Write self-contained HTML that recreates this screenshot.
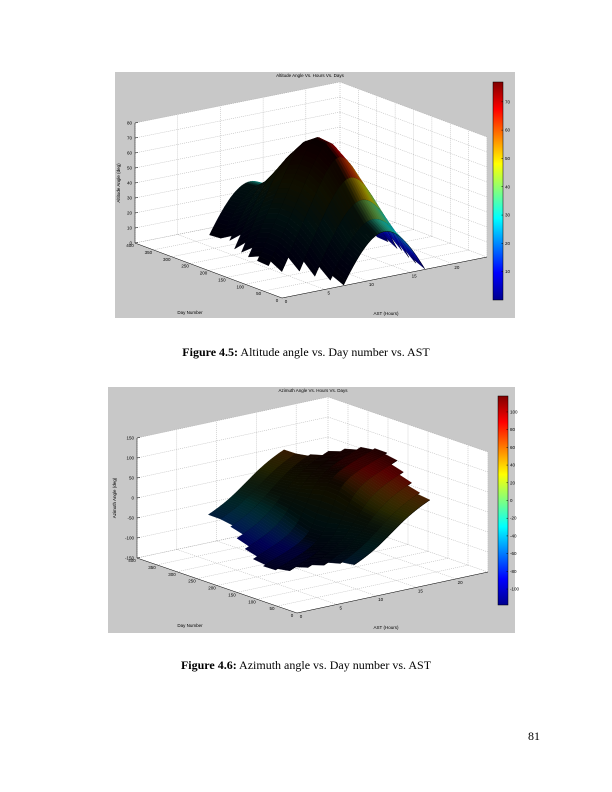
<!DOCTYPE html>
<html><head><meta charset="utf-8"><style>
body{margin:0;background:#fff;width:612px;height:792px;position:relative;overflow:hidden;font-family:"Liberation Serif",serif}
svg{position:absolute;left:0;top:0}
.cap{position:absolute;width:612px;text-align:center;font-size:12px;color:#000}
</style></head><body>
<svg id="s" width="612" height="792" xmlns="http://www.w3.org/2000/svg">
<defs><linearGradient id="jet" x1="0" y1="1" x2="0" y2="0">
<stop offset="0" stop-color="#00008F"/><stop offset="0.125" stop-color="#0000FF"/><stop offset="0.375" stop-color="#00FFFF"/><stop offset="0.625" stop-color="#FFFF00"/><stop offset="0.875" stop-color="#FF0000"/><stop offset="1" stop-color="#800000"/></linearGradient></defs>
<rect x="115" y="72" width="400" height="246" fill="#c8c8c8"/>
<rect x="108" y="387" width="407" height="246" fill="#c8c8c8"/>
<g id="g1"></g><g id="g2"></g>
</svg>
<div class="cap" style="top:345px"><b>Figure 4.5:</b> Altitude angle vs. Day number vs. AST</div>
<div class="cap" style="top:658px"><b>Figure 4.6:</b> Azimuth angle vs. Day number vs. AST</div>
<div style="position:absolute;left:528px;top:729px;font-size:12px">81</div>
<script>
var NS="http://www.w3.org/2000/svg";
function el(p,t,a,txt){var e=document.createElementNS(NS,t);for(var k in a)e.setAttribute(k,a[k]);if(txt!==undefined)e.textContent=txt;p.appendChild(e);return e;}
function jet(v){v=Math.max(0,Math.min(1,v));var r=Math.max(0,Math.min(1,1.5-Math.abs(4*v-3))),g=Math.max(0,Math.min(1,1.5-Math.abs(4*v-2))),b=Math.max(0,Math.min(1,1.5-Math.abs(4*v-1)));return [r,g,b];}
var LAT=36.5*Math.PI/180;
function sun(h,n){var d=23.45*Math.sin(2*Math.PI*(284+n)/365)*Math.PI/180;var H=15*(h-12)*Math.PI/180;
 var sa=Math.sin(LAT)*Math.sin(d)+Math.cos(LAT)*Math.cos(d)*Math.cos(H);var alt=Math.asin(sa)*180/Math.PI;
 var az=Math.atan2(Math.sin(H),Math.cos(H)*Math.sin(LAT)-Math.tan(d)*Math.cos(LAT))*180/Math.PI;return [alt,az];}
function chart(g,c){
 var F=c.F,R=c.R,L=c.L,Hh=c.H;
 function P(h,d,z){var t=(z-c.zmin)/(c.zmax-c.zmin);return [F[0]+h/24*(R[0]-F[0])+d/400*(L[0]-F[0]),F[1]+h/24*(R[1]-F[1])+d/400*(L[1]-F[1])-t*Hh];}
 function line(a,b,st){el(g,"line",{x1:a[0],y1:a[1],x2:b[0],y2:b[1],stroke:st||"#000","stroke-width":0.5});}
 function poly(pts,fill){el(g,"polygon",{points:pts.map(function(p){return p[0].toFixed(1)+","+p[1].toFixed(1)}).join(" "),fill:fill});}
 poly([P(0,400,c.zmin),P(24,400,c.zmin),P(24,400,c.zmax),P(0,400,c.zmax)],"#fff");
 poly([P(24,0,c.zmin),P(24,400,c.zmin),P(24,400,c.zmax),P(24,0,c.zmax)],"#fff");
 poly([P(0,0,c.zmin),P(24,0,c.zmin),P(24,400,c.zmin),P(0,400,c.zmin)],"#fff");
 function dl(a,b){el(g,"line",{x1:a[0],y1:a[1],x2:b[0],y2:b[1],stroke:"#999","stroke-width":0.4,"stroke-dasharray":"1,1"});}
 [0,5,10,15,20].forEach(function(h){dl(P(h,400,c.zmin),P(h,400,c.zmax));dl(P(h,0,c.zmin),P(h,400,c.zmin));});
 for(var d=0;d<=400;d+=50){dl(P(24,d,c.zmin),P(24,d,c.zmax));dl(P(0,d,c.zmin),P(24,d,c.zmin));}
 c.zt.forEach(function(z){dl(P(0,400,z),P(24,400,z));dl(P(24,400,z),P(24,0,z));});
 line(P(0,400,c.zmin),P(0,400,c.zmax));line(P(0,400,c.zmin),P(0,0,c.zmin));line(P(0,0,c.zmin),P(24,0,c.zmin));line(P(24,0,c.zmin),P(24,0,c.zmax),"#ccc");
 var days=[];for(var n=1;n<=366;n+=30.4)days.push(n);
 var hs=[];for(var h=0;h<=24.001;h+=0.25)hs.push(h);
 var Z=days.map(function(n){return hs.map(function(h){var s=sun(h,n);return s[0]<0?null:s[c.idx];});});
 var quads=[];
 for(var i=0;i<days.length-1;i++)for(var j=0;j<hs.length-1;j++){
  var a=Z[i][j],b=Z[i][j+1],cc=Z[i+1][j+1],dd=Z[i+1][j];if(a===null||b===null||cc===null||dd===null)continue;
  quads.push({i:i,j:j,a:a,b:b,c:cc,d:dd,depth:hs[j]/24+days[i]/400});}
 quads.sort(function(x,y){return y.depth-x.depth;});
 var lx=c.light;
 quads.forEach(function(q){
  var h0=hs[q.j],h1=hs[q.j+1],d0=days[q.i],d1=days[q.i+1];
  var dzdh=((q.b-q.a)+(q.c-q.d))/2/((h1-h0)/24),dzdd=((q.d-q.a)+(q.c-q.b))/2/((d1-d0)/400);
  var sc=c.zs;var nx=-dzdh*sc,ny=-dzdd*sc,nz=1;var nl=Math.sqrt(nx*nx+ny*ny+nz*nz);
  var f=(nx*lx[0]+ny*lx[1]+nz*lx[2])/nl;f=0.06+c.gain*Math.max(0,f);
  var v=((q.a+q.b+q.c+q.d)/4-c.cmin)/(c.cmax-c.cmin);var col=jet(v);
  var rgb="rgb("+col.map(function(x){return Math.round(x*f*255)}).join(",")+")";
  var pts=[P(h0,d0,q.a),P(h1,d0,q.b),P(h1,d1,q.c),P(h0,d1,q.d)];
  el(g,"polygon",{points:pts.map(function(p){return p[0].toFixed(1)+","+p[1].toFixed(1)}).join(" "),fill:rgb,stroke:rgb,"stroke-width":0.4});
  el(g,"line",{x1:pts[0][0],y1:pts[0][1],x2:pts[1][0],y2:pts[1][1],stroke:"#000","stroke-width":0.5});
 });
 var fs=4.5;
 function T(x,y,s,anc,extra){var e=el(g,"text",{x:x,y:y,"font-size":fs,"font-family":"Liberation Sans","text-anchor":anc||"middle",fill:"#000"},s);if(extra)e.setAttribute("transform",extra);return e;}
 c.zt.forEach(function(z){var p=P(0,400,z);T(p[0]-3,p[1]+1.5,String(z),"end");line(p,[p[0]+3,p[1]-0.5]);});
 for(var d=0;d<=400;d+=50){var p=P(0,d,c.zmin);T(p[0]-5,p[1]+4,String(d),"middle");}
 [0,5,10,15,20].forEach(function(h){var p=P(h,0,c.zmin);T(p[0]+4,p[1]+5,String(h),"middle");});
 T(c.title[0],c.title[1],c.tt);
 T(c.dl[0],c.dl[1],"Day Number");T(c.al[0],c.al[1],"AST (Hours)");
 T(c.zl[0],c.zl[1],c.zlab,"middle","rotate(-90 "+c.zl[0]+" "+c.zl[1]+")");
 var cb=c.cb;el(g,"rect",{x:cb[0],y:cb[1],width:cb[2],height:cb[3],fill:"url(#jet)",stroke:"#000","stroke-width":0.5});
 c.cbt.forEach(function(t){var y=cb[1]+cb[3]*(c.cmax-t)/(c.cmax-c.cmin);T(cb[0]+cb[2]+2,y+1.5,String(t),"start");line([cb[0]+cb[2]-1.5,y],[cb[0]+cb[2],y]);});
}
chart(document.getElementById("g1"),{F:[282,298],R:[487,257],L:[135,243],H:120,zmin:0,zmax:80,zt:[0,10,20,30,40,50,60,70,80],idx:0,cmin:0,cmax:77,zs:0.012,light:[0.8,-0.3,0.5],gain:0.55,
 cb:[493,82,10,218],cbt:[10,20,30,40,50,60,70],title:[310,77],tt:"Altitude Angle Vs. Hours Vs. Days",dl:[190,314],al:[386,315],zl:[120,183],zlab:"Altitude Angle (deg)"});
chart(document.getElementById("g2"),{F:[297,613],R:[488,572],L:[137,558],H:120,zmin:-150,zmax:150,zt:[-150,-100,-50,0,50,100,150],idx:1,cmin:-118,cmax:118,zs:0.004,light:[0.3,-0.6,0.6],gain:0.6,
 cb:[498,396,10,209],cbt:[100,80,60,40,20,0,-20,-40,-60,-80,-100],title:[313,392],tt:"Azimuth Angle Vs. Hours Vs. Days",dl:[190,627],al:[386,629],zl:[116,498],zlab:"Azimuth Angle (deg)"});
</script>
</body></html>
